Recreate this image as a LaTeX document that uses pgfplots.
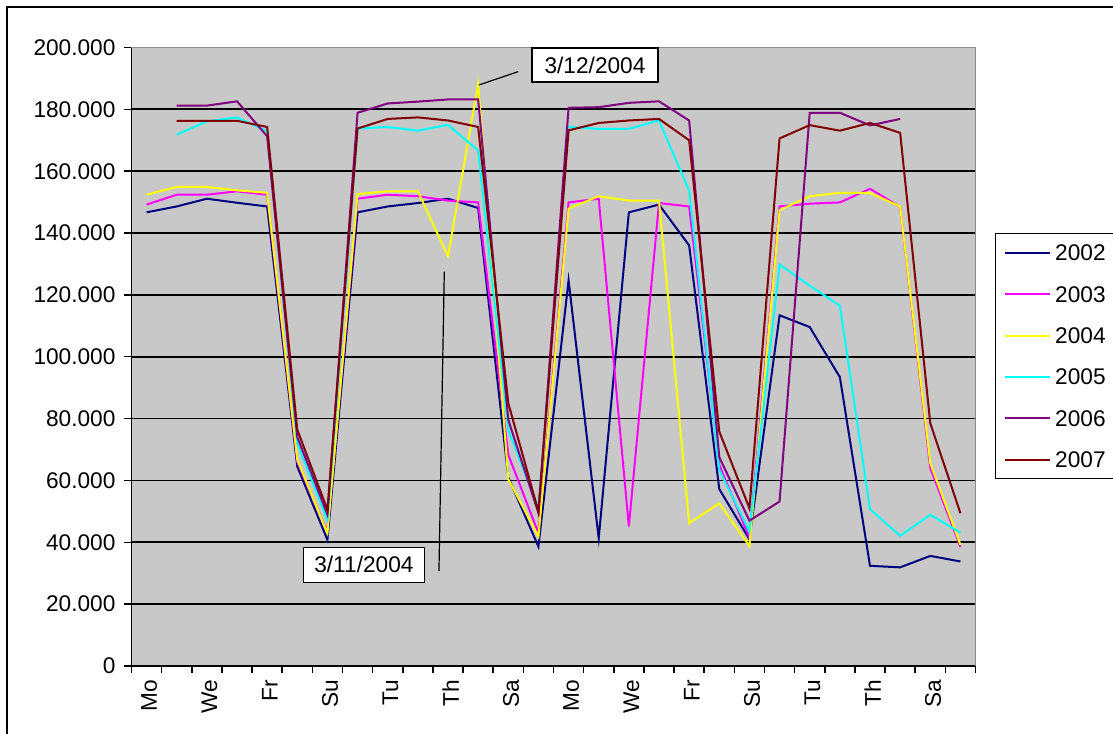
\documentclass[border=0pt]{standalone}
\usepackage{fontspec}
\setmainfont{Liberation Sans}
\usepackage{pgfplots}
\pgfplotsset{compat=1.18}

\newcommand\bigfont{\fontsize{17}{20.4}\selectfont}

\definecolor{plotbg}{RGB}{200,200,200}
\definecolor{frameg}{RGB}{140,140,140}
\definecolor{c2002}{RGB}{0,0,128}
\definecolor{c2003}{RGB}{255,0,255}
\definecolor{c2004}{RGB}{255,255,0}
\definecolor{c2005}{RGB}{0,255,255}
\definecolor{c2006}{RGB}{128,0,128}
\definecolor{c2007}{RGB}{128,0,0}

\begin{document}
\begin{tikzpicture}
\useasboundingbox (0,0) rectangle (834.75pt,549.75pt);
% outer chart frame
\draw[line width=1.6pt] (5pt,-5pt) -- (5pt,544.7pt) -- (840pt,544.7pt);
\begin{axis}[
  at={(98.625pt,50.25pt)}, anchor=south west,
  scale only axis, width=633pt, height=463.875pt,
  xmin=-0.5, xmax=27.5, ymin=0, ymax=200000,
  axis lines*=left,
  axis line style={line width=1.3pt, black},
  axis background/.style={fill=plotbg},
  clip=false,
  tick align=outside, tick pos=left,
  ytick={0,20000,...,200000},
  scaled y ticks=false,
  tick label style={font=\bigfont},
  yticklabel style={/pgf/number format/fixed, /pgf/number format/1000 sep={.},
    /pgf/number format/assume math mode=true, xshift=-3pt},
  ymajorgrids,
  major grid style={line width=1.3pt, black},
  major tick length=5.5pt,
  minor tick length=5pt,
  every tick/.style={line width=1.1pt, black},
  % day names at the category centres, tick marks at the boundaries
  xtick={0,2,...,26},
  xticklabels={Mo,We,Fr,Su,Tu,Th,Sa,Mo,We,Fr,Su,Tu,Th,Sa},
  major x tick style={draw=none},
  minor xtick={-0.5,0.5,...,27.5},
  xticklabel style={rotate=90, anchor=east, yshift=-2pt, xshift=-1.5pt},
  legend style={at={(1.0231,0.7001)}, anchor=north west,
    draw=black, line width=0.8pt, fill=white, font=\bigfont,
    inner xsep=6pt, inner ysep=6.5pt, row sep=15pt, column sep=3.5pt,
    nodes={inner xsep=0pt, inner ysep=2pt, text height=12pt, text depth=0pt}},
  legend cell align=left,
  legend image code/.code={\draw[#1] (0pt,0pt) -- (33.75pt,0pt);},
  every axis plot/.append style={line width=1.5pt, mark=none},
]
\draw[frameg, line width=1.3pt] (rel axis cs:0,1) -- (rel axis cs:1,1) -- (rel axis cs:1,0);

\addplot[c2002] coordinates {
 (0,146700) (1,148600) (2,151100) (3,149800) (4,148600) (5,64500) (6,40800)
 (7,146700) (8,148600) (9,149700) (10,151100) (11,148100) (12,61000) (13,38600)
 (14,124700) (15,41300) (16,146700) (17,149200) (18,136000) (19,57200) (20,41000)
 (21,113400) (22,109600) (23,93400) (24,32400) (25,31900) (26,35600) (27,33800)};
\addlegendentry{2002}
\addplot[c2003] coordinates {
 (0,149200) (1,152400) (2,152400) (3,153500) (4,152400) (5,66000) (6,43500)
 (7,151100) (8,152400) (9,151900) (10,150500) (11,149900) (12,68300) (13,43000)
 (14,149900) (15,151100) (16,45100) (17,149700) (18,148600) (19,65000) (20,41500)
 (21,148600) (22,149500) (23,149900) (24,154300) (25,148500) (26,64000) (27,38500)};
\addlegendentry{2003}
\addplot[c2004] coordinates {
 (0,152400) (1,154900) (2,154900) (3,153800) (4,153000) (5,66700) (6,43000)
 (7,152600) (8,153500) (9,153500) (10,132500) (11,188200) (12,60400) (13,41900)
 (14,147900) (15,151900) (16,150500) (17,150500) (18,46200) (19,52600) (20,38800)
 (21,147400) (22,151900) (23,153000) (24,153000) (25,148600) (26,65600) (27,39200)};
\addlegendentry{2004}
\addplot[c2005] coordinates {
 (1,171800) (2,176100) (3,177400) (4,172900) (5,72000) (6,47200)
 (7,173800) (8,174300) (9,173100) (10,175000) (11,166700) (12,76400) (13,51000)
 (14,174300) (15,173700) (16,173700) (17,176400) (18,153700) (19,63400) (20,43500)
 (21,129800) (22,123000) (23,116500) (24,50700) (25,42100) (26,48900) (27,43100)};
\addlegendentry{2005}
\addplot[c2006] coordinates {
 (1,181200) (2,181200) (3,182600) (4,171300) (5,74000) (6,49000)
 (7,178900) (8,181900) (9,182500) (10,183200) (11,183200) (12,79600) (13,49500)
 (14,180500) (15,180700) (16,182100) (17,182600) (18,176400) (19,67500) (20,47000)
 (21,53200) (22,178900) (23,178900) (24,174800) (25,176900)};
\addlegendentry{2006}
\addplot[c2007] coordinates {
 (1,176300) (2,176300) (3,176300) (4,174300) (5,76400) (6,50500)
 (7,173800) (8,176900) (9,177400) (10,176400) (11,174300) (12,85000) (13,49900)
 (14,173200) (15,175600) (16,176400) (17,176900) (18,170000) (19,75800) (20,51000)
 (21,170600) (22,174900) (23,173100) (24,175600) (25,172400) (26,78500) (27,49400)};
\addlegendentry{2007}

% date callouts
\draw[black, line width=0.9pt] (axis cs:11.03,187900) -- (axis cs:12.33,192200);
\node[draw=black, line width=1pt, fill=white, font=\bigfont, minimum width=94.5pt,
  minimum height=25.5pt, inner sep=0pt] at (axis cs:14.877,194340) {3/12/2004};
\draw[black, line width=0.9pt] (axis cs:9.70,30700) -- (axis cs:9.877,127500);
\node[draw=black, line width=1pt, fill=white, font=\bigfont, minimum width=90.75pt,
  minimum height=26.25pt, inner sep=0pt] at (axis cs:7.21,32720) {3/11/2004};
\end{axis}
\end{tikzpicture}
\end{document}
